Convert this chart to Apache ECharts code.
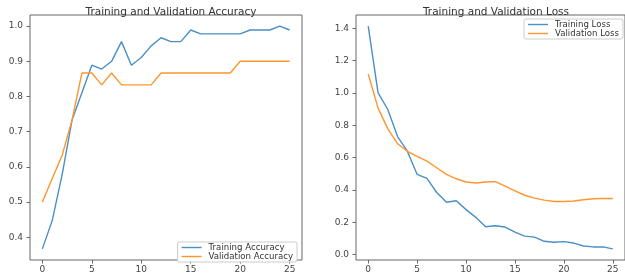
<!DOCTYPE html>
<html>
<head>
<meta charset="utf-8">
<script src="https://cdn.jsdelivr.net/npm/echarts@6/dist/echarts.min.js"></script>
<style>
    html, body { margin: 0; padding: 0; background: #fff; }
    #chart { width: 625px; height: 274px; }
</style>
</head>
<body>
<div id="chart"></div>
<script>
const epochs = [0, 1, 2, 3, 4, 5, 6, 7, 8, 9, 10, 11, 12, 13, 14, 15, 16, 17, 18, 19, 20, 21, 22, 23, 24, 25];
const trainAcc = [0.367, 0.448, 0.578, 0.733, 0.811, 0.889, 0.878, 0.900, 0.956, 0.889, 0.911, 0.944, 0.967, 0.956, 0.956, 0.989, 0.978, 0.978, 0.978, 0.978, 0.978, 0.989, 0.989, 0.989, 1.000, 0.989];
const valAcc = [0.500, 0.567, 0.633, 0.733, 0.867, 0.867, 0.833, 0.867, 0.833, 0.833, 0.833, 0.833, 0.867, 0.867, 0.867, 0.867, 0.867, 0.867, 0.867, 0.867, 0.900, 0.900, 0.900, 0.900, 0.900, 0.900];
const trainLoss = [1.414, 1.002, 0.898, 0.730, 0.640, 0.496, 0.471, 0.384, 0.324, 0.333, 0.278, 0.230, 0.172, 0.178, 0.170, 0.139, 0.114, 0.108, 0.082, 0.076, 0.080, 0.071, 0.053, 0.047, 0.047, 0.035];
const valLoss = [1.118, 0.908, 0.778, 0.686, 0.639, 0.608, 0.578, 0.537, 0.496, 0.469, 0.449, 0.443, 0.449, 0.451, 0.424, 0.394, 0.367, 0.349, 0.337, 0.328, 0.328, 0.331, 0.339, 0.345, 0.347, 0.347];
const xTicks = [0, 5, 10, 15, 20, 25];
const accTicks = [0.4, 0.5, 0.6, 0.7, 0.8, 0.9, 1.0];
const lossTicks = [0.0, 0.2, 0.4, 0.6, 0.8, 1.0, 1.2, 1.4];

const FONT = 'DejaVu Sans';
const FRAME = '#666';
const BLUE = '#4a8fc6';
const ORANGE = '#ff952e';

// matplotlib-like 5% margins
const pad = (v) => (v.max - v.min) * 0.05;

const makeX = (idx) => ({
    type: 'value',
    gridIndex: idx,
    min: (v) => v.min - pad(v),
    max: (v) => v.max + pad(v),
    splitLine: { show: false },
    axisLine: { show: false, onZero: false },
    axisTick: { show: true, inside: false, length: 3.5, lineStyle: { color: FRAME }, customValues: xTicks },
    axisLabel: { customValues: xTicks, fontFamily: FONT, fontSize: 9, color: '#444', margin: 5 }
});

const makeY = (idx, ticks) => ({
    type: 'value',
    gridIndex: idx,
    min: (v) => v.min - pad(v),
    max: (v) => v.max + pad(v),
    splitLine: { show: false },
    axisLine: { show: false, onZero: false },
    axisTick: { show: true, inside: false, length: 3.5, lineStyle: { color: FRAME }, customValues: ticks },
    axisLabel: {
        customValues: ticks, fontFamily: FONT, fontSize: 9, color: '#444', margin: 7,
        formatter: (v) => v.toFixed(1)
    }
});

const pairs = (ys) => epochs.map((e, i) => [e, ys[i]]);

const lineSeries = (name, data, color, idx) => ({
    name: name,
    type: 'line',
    xAxisIndex: idx,
    yAxisIndex: idx,
    data: pairs(data),
    showSymbol: false,
    symbol: 'none',
    smooth: false,
    lineStyle: { color: color, width: 1.4 },
    itemStyle: { color: color },
    animation: false
});

const legendBase = {
    orient: 'vertical',
    icon: 'rect',
    itemWidth: 20,
    itemHeight: 1.4,
    itemGap: 0,
    padding: [1, 4],
    backgroundColor: '#fff',
    borderColor: '#ccc',
    borderWidth: 1,
    borderRadius: 2,
    textStyle: { fontFamily: FONT, fontSize: 8.6, color: '#333', padding: [0, 0, 0, 2] }
};

let chart = echarts.init(document.getElementById('chart'), null, { renderer: 'canvas' });
let option = {
    backgroundColor: '#fff',
    animation: false,
    title: [
        { text: 'Training and Validation Accuracy', left: 166, top: 2, textAlign: 'center',
          textStyle: { fontFamily: FONT, fontSize: 10.5, fontWeight: 'normal', color: '#333' } },
        { text: 'Training and Validation Loss', left: 491, top: 2, textAlign: 'center',
          textStyle: { fontFamily: FONT, fontSize: 10.5, fontWeight: 'normal', color: '#333' } }
    ],
    grid: [
        { left: 30, top: 15, width: 272, height: 248, show: true, borderColor: FRAME, borderWidth: 1, backgroundColor: 'transparent' },
        { left: 356, top: 15, width: 271, height: 248, show: true, borderColor: FRAME, borderWidth: 1, backgroundColor: 'transparent' }
    ],
    xAxis: [makeX(0), makeX(1)],
    yAxis: [makeY(0, accTicks), makeY(1, lossTicks)],
    legend: [
        Object.assign({}, legendBase, { data: ['Training Accuracy', 'Validation Accuracy'], right: 328, top: 242 }),
        Object.assign({}, legendBase, { data: ['Training Loss', 'Validation Loss'], right: 2, top: 19 })
    ],
    series: [
        lineSeries('Training Accuracy', trainAcc, BLUE, 0),
        lineSeries('Validation Accuracy', valAcc, ORANGE, 0),
        lineSeries('Training Loss', trainLoss, BLUE, 1),
        lineSeries('Validation Loss', valLoss, ORANGE, 1)
    ]
};
chart.setOption(option);
</script>
</body>
</html>
